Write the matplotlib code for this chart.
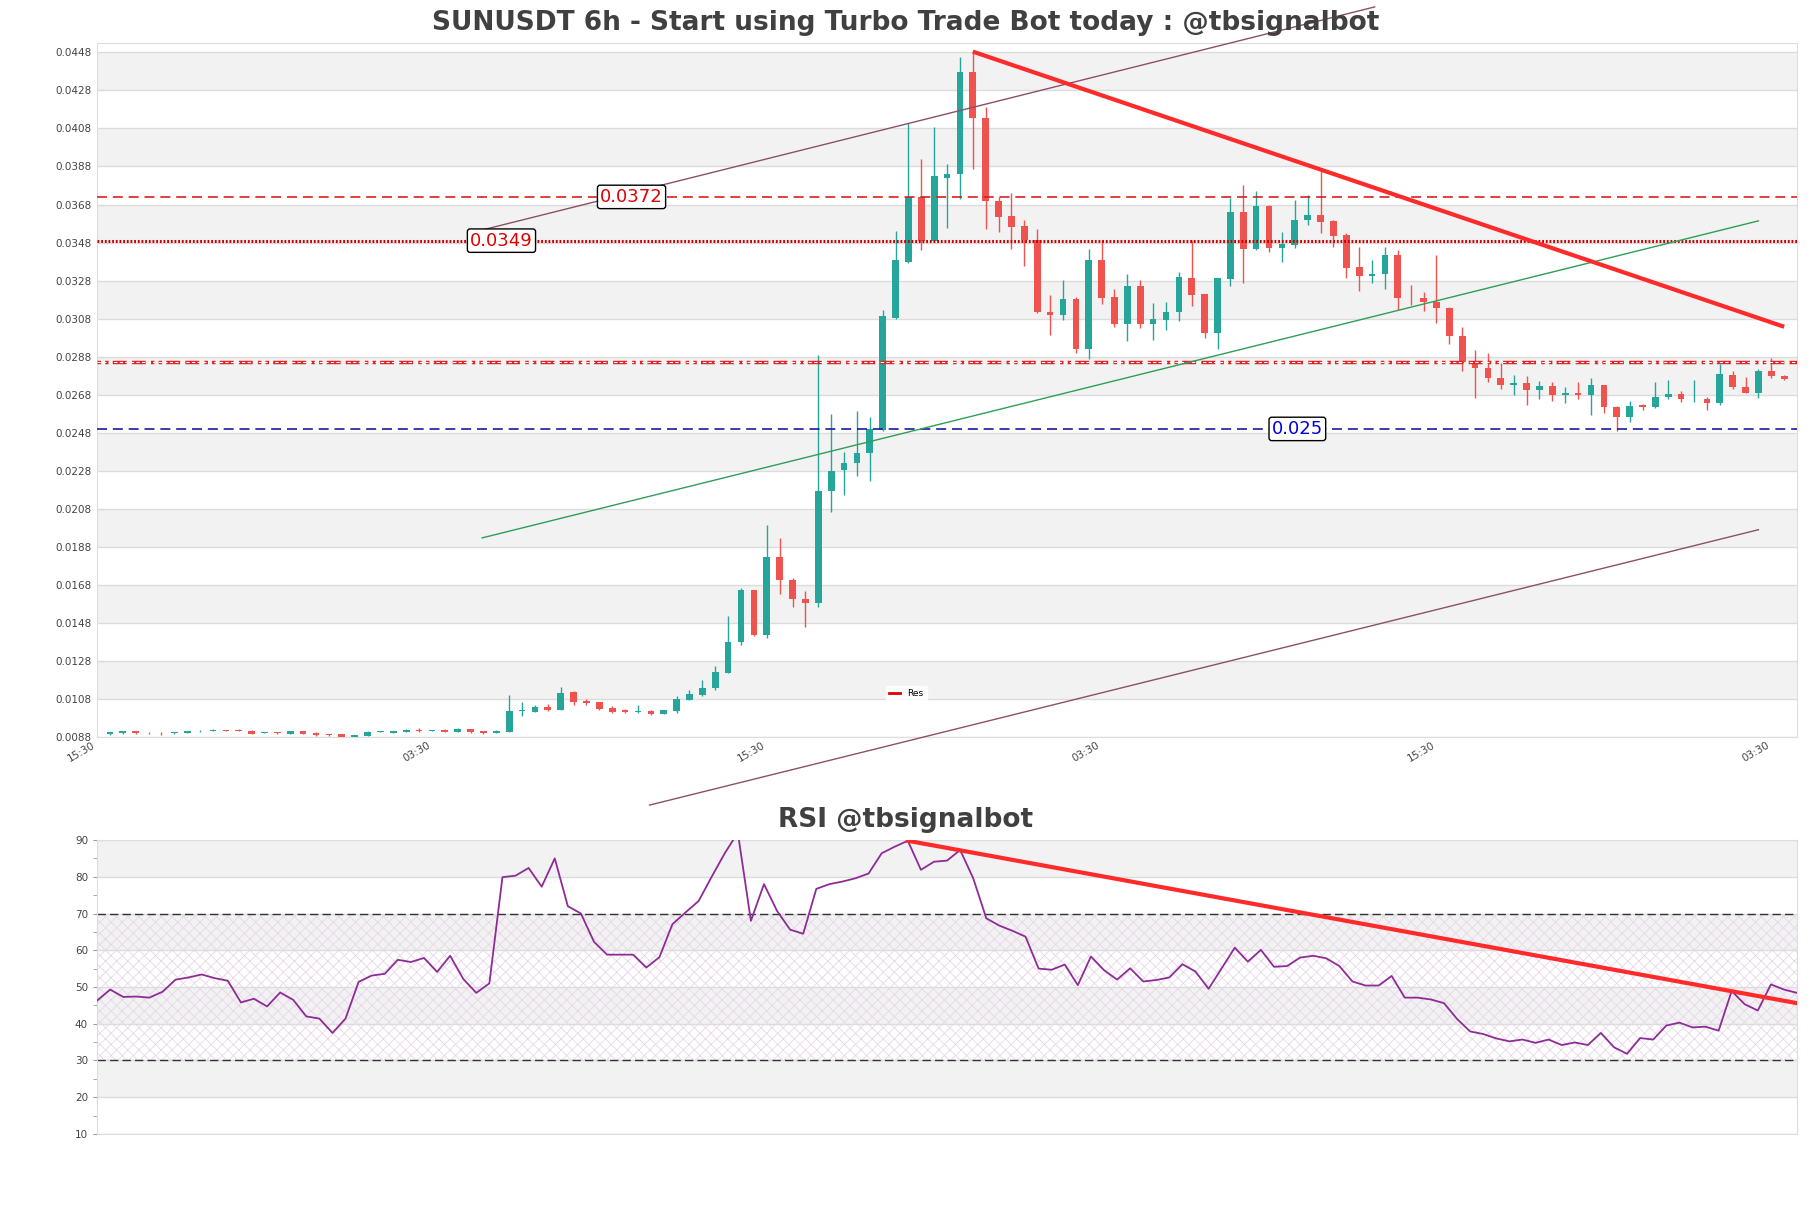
import numpy as np
import pandas as pd
import matplotlib
matplotlib.use("Agg")
import matplotlib.pyplot as plt

# candle data (6h candles)
opens = [0.00895, 0.00899, 0.00909, 0.00903, 0.00902, 0.00899, 0.00903, 0.00909, 0.00914, 0.00918,
         0.00918, 0.00913, 0.00902, 0.00904, 0.00897, 0.00909, 0.00902, 0.00895, 0.00895, 0.00882,
         0.00887, 0.00906, 0.00902, 0.00906, 0.00916, 0.00913, 0.00918, 0.00907, 0.00921, 0.00910,
         0.00902, 0.00906, 0.01018, 0.01012, 0.01038, 0.01024, 0.01119, 0.01071, 0.01064, 0.01034,
         0.01022, 0.01013, 0.01017, 0.01003, 0.01017, 0.01077, 0.01101, 0.01136, 0.01219, 0.01377,
         0.01652, 0.01417, 0.01828, 0.01705, 0.01607, 0.01584, 0.02174, 0.02284, 0.02321, 0.02374,
         0.02496, 0.03085, 0.03378, 0.03718, 0.03487, 0.03820, 0.03839, 0.04376, 0.04136, 0.03701,
         0.03618, 0.03569, 0.03495, 0.03114, 0.03099, 0.03181, 0.02918, 0.03386, 0.03192, 0.03051,
         0.03253, 0.03051, 0.03072, 0.03113, 0.03293, 0.03207, 0.03007, 0.03288, 0.03639, 0.03446,
         0.03671, 0.03453, 0.03465, 0.03601, 0.03623, 0.03594, 0.03518, 0.03351, 0.03304, 0.03315,
         0.03416, 0.03195, 0.03190, 0.03167, 0.03137, 0.02988, 0.02850, 0.02820, 0.02768, 0.02730,
         0.02744, 0.02707, 0.02726, 0.02679, 0.02688, 0.02676, 0.02730, 0.02616, 0.02562, 0.02628,
         0.02614, 0.02667, 0.02684, 0.02655, 0.02658, 0.02635, 0.02786, 0.02723, 0.02690, 0.02802,
         0.02779]
closes = [0.00905, 0.00909, 0.00899, 0.00899, 0.00899, 0.00906, 0.00911, 0.00913, 0.00917, 0.00910,
          0.00910, 0.00898, 0.00905, 0.00900, 0.00909, 0.00897, 0.00891, 0.00888, 0.00882, 0.00889,
          0.00907, 0.00909, 0.00912, 0.00919, 0.00911, 0.00916, 0.00908, 0.00922, 0.00905, 0.00901,
          0.00912, 0.01017, 0.01021, 0.01038, 0.01022, 0.01110, 0.01066, 0.01057, 0.01029, 0.01013,
          0.01012, 0.01018, 0.01003, 0.01020, 0.01080, 0.01105, 0.01138, 0.01222, 0.01380, 0.01652,
          0.01417, 0.01828, 0.01705, 0.01605, 0.01584, 0.02175, 0.02279, 0.02323, 0.02375, 0.02500,
          0.03092, 0.03386, 0.03718, 0.03487, 0.03829, 0.03843, 0.04376, 0.04136, 0.03699, 0.03615,
          0.03562, 0.03492, 0.03114, 0.03099, 0.03181, 0.02918, 0.03386, 0.03190, 0.03051, 0.03253,
          0.03051, 0.03079, 0.03116, 0.03297, 0.03204, 0.03007, 0.03292, 0.03639, 0.03446, 0.03671,
          0.03453, 0.03471, 0.03601, 0.03623, 0.03588, 0.03515, 0.03348, 0.03304, 0.03316, 0.03416,
          0.03188, 0.03192, 0.03167, 0.03137, 0.02988, 0.02848, 0.02820, 0.02767, 0.02730, 0.02742,
          0.02707, 0.02726, 0.02676, 0.02691, 0.02679, 0.02730, 0.02614, 0.02562, 0.02623, 0.02614,
          0.02670, 0.02686, 0.02656, 0.02658, 0.02635, 0.02790, 0.02719, 0.02690, 0.02802, 0.02777,
          0.02762]
highs = [0.00908, 0.00912, 0.00910, 0.00907, 0.00906, 0.00908, 0.00914, 0.00917, 0.00920, 0.00919,
         0.00920, 0.00918, 0.00908, 0.00907, 0.00911, 0.00911, 0.00904, 0.00897, 0.00896, 0.00891,
         0.00910, 0.00914, 0.00914, 0.00922, 0.00927, 0.00918, 0.00920, 0.00925, 0.00922, 0.00913,
         0.00915, 0.01101, 0.01064, 0.01048, 0.01052, 0.01143, 0.01120, 0.01081, 0.01066, 0.01041,
         0.01029, 0.01048, 0.01022, 0.01022, 0.01094, 0.01126, 0.01182, 0.01252, 0.01515, 0.01663,
         0.01655, 0.01995, 0.01928, 0.01717, 0.01647, 0.02888, 0.02576, 0.02381, 0.02595, 0.02565,
         0.03123, 0.03539, 0.04106, 0.03918, 0.04085, 0.03895, 0.04454, 0.04484, 0.04194, 0.03720,
         0.03738, 0.03597, 0.03553, 0.03202, 0.03281, 0.03193, 0.03448, 0.03492, 0.03237, 0.03313,
         0.03281, 0.03164, 0.03170, 0.03323, 0.03492, 0.03210, 0.03295, 0.03715, 0.03781, 0.03753,
         0.03675, 0.03534, 0.03706, 0.03729, 0.03860, 0.03600, 0.03530, 0.03457, 0.03387, 0.03457,
         0.03443, 0.03255, 0.03220, 0.03413, 0.03140, 0.03035, 0.02916, 0.02900, 0.02846, 0.02786,
         0.02776, 0.02751, 0.02748, 0.02723, 0.02748, 0.02770, 0.02731, 0.02618, 0.02649, 0.02630,
         0.02749, 0.02755, 0.02702, 0.02755, 0.02670, 0.02842, 0.02807, 0.02772, 0.02816, 0.02872,
         0.02781]
lows = [0.00890, 0.00896, 0.00897, 0.00894, 0.00893, 0.00897, 0.00899, 0.00907, 0.00912, 0.00909,
        0.00909, 0.00895, 0.00899, 0.00896, 0.00895, 0.00895, 0.00887, 0.00886, 0.00880, 0.00881,
        0.00885, 0.00904, 0.00900, 0.00904, 0.00908, 0.00911, 0.00906, 0.00905, 0.00903, 0.00897,
        0.00899, 0.00904, 0.00989, 0.01010, 0.01017, 0.01020, 0.01048, 0.01049, 0.01024, 0.01008,
        0.01007, 0.01008, 0.00998, 0.00999, 0.01008, 0.01073, 0.01098, 0.01129, 0.01219, 0.01366,
        0.01410, 0.01403, 0.01631, 0.01566, 0.01461, 0.01566, 0.02061, 0.02151, 0.02251, 0.02226,
        0.02490, 0.03079, 0.03372, 0.03439, 0.03487, 0.03557, 0.03711, 0.03867, 0.03550, 0.03536,
        0.03446, 0.03357, 0.03110, 0.02993, 0.03074, 0.02900, 0.02869, 0.03158, 0.03035, 0.02962,
        0.03032, 0.02969, 0.03018, 0.03067, 0.03146, 0.02978, 0.02920, 0.03251, 0.03269, 0.03440,
        0.03430, 0.03378, 0.03453, 0.03574, 0.03530, 0.03457, 0.03295, 0.03225, 0.03267, 0.03237,
        0.03123, 0.03153, 0.03118, 0.03057, 0.02948, 0.02807, 0.02663, 0.02745, 0.02712, 0.02677,
        0.02625, 0.02656, 0.02646, 0.02635, 0.02658, 0.02574, 0.02584, 0.02491, 0.02537, 0.02597,
        0.02612, 0.02658, 0.02640, 0.02640, 0.02597, 0.02626, 0.02711, 0.02688, 0.02662, 0.02767,
        0.02758]

rsi = [46.3, 49.3, 47.3, 47.4, 47.1, 48.7, 52.0, 52.6, 53.4, 52.4,
       51.7, 45.8, 46.8, 44.7, 48.5, 46.5, 42.0, 41.4, 37.5, 41.4,
       51.4, 53.1, 53.6, 57.4, 56.8, 57.9, 54.1, 58.5, 52.2, 48.4,
       51.0, 79.9, 80.3, 82.4, 77.3, 85.0, 72.0, 70.0, 62.3, 58.8,
       58.8, 58.8, 55.3, 58.1, 67.1, 70.3, 73.4, 80.0, 86.4, 92.0,
       68.0, 78.0, 70.7, 65.6, 64.5, 76.7, 78.0, 78.7, 79.6, 80.9,
       86.4, 88.2, 89.8, 81.9, 84.1, 84.4, 87.3, 79.6, 68.7, 66.7,
       65.3, 63.7, 55.0, 54.7, 56.1, 50.5, 58.3, 54.6, 52.0, 55.1,
       51.5, 51.9, 52.6, 56.2, 54.2, 49.5, 55.1, 60.7, 56.9, 60.1,
       55.5, 55.7, 58.0, 58.5, 57.8, 55.7, 51.5, 50.4, 50.4, 53.0,
       47.1, 47.1, 46.6, 45.6, 41.3, 37.9, 37.2, 36.0, 35.2, 35.7,
       34.8, 35.7, 34.2, 34.9, 34.2, 37.5, 33.6, 31.8, 36.1, 35.7,
       39.5, 40.3, 39.0, 39.2, 38.1, 48.9, 45.3, 43.6, 50.7, 49.3,
       48.4]

times = pd.date_range("2024-05-01 21:30", periods=len(opens), freq="6h")

# horizontal levels
res_top = 0.0372
res_mid = 0.0349
res_low = 0.02853
support = 0.025

# trend lines: (candle index, price)
down_line = [(67, 0.04484), (130, 0.03037)]
chan_upper = [(28.9, 0.03546), (98.2, 0.04719)]
chan_lower = [(41.9, 0.00522), (128.0, 0.01970)]
green_line = [(28.9, 0.01927), (128.0, 0.03594)]
rsi_line = [(62, 89.8), (130, 45.6)]

up_col = "#26a69a"
down_col = "#ef5350"

plt.rcParams["hatch.linewidth"] = 0.6

fig = plt.figure(figsize=(18.11, 12.08), dpi=100)
ax = fig.add_axes([0.0536, 0.3899, 0.9387, 0.5743])
rax = fig.add_axes([0.0536, 0.0613, 0.9387, 0.2433])

# ---- price chart ----
ymin, ymax = 0.0088, 0.04528
yticks = np.arange(0.0088, 0.0449, 0.002)
for lo in yticks[1::2]:
    ax.axhspan(lo, lo + 0.002, color="#f2f2f2", zorder=0, lw=0)
ax.set_yticks(yticks)
ax.set_yticklabels(["%.4f" % t for t in yticks])
ax.grid(axis="y", color="#dcdcdc", lw=1, zorder=0.5)
ax.set_axisbelow(True)

x = np.arange(len(opens))
o = np.array(opens)
c = np.array(closes)
cols = [up_col if cc >= oo else down_col for oo, cc in zip(o, c)]
ax.vlines(x, lows, highs, colors=cols, lw=1, zorder=2)
body = np.maximum(np.abs(c - o), 0.00004)
ax.bar(x, body, bottom=np.minimum(o, c), width=0.52, color=cols, zorder=3)

ax.axhline(res_top, color="#d82020", lw=1.2, dashes=(6, 3.5), zorder=4)
ax.axhline(res_mid, color="#cc0000", lw=2.2, ls=(0, (0.6, 0.6)), zorder=4)
ax.axhline(res_low, color="#dd2222", lw=2.5, ls=(0, (1, 1.2, 1, 1.2, 4, 1.5, 4, 1.5)), zorder=4)
ax.axhline(res_low, color="white", lw=0.8, ls=(0, (3, 2)), zorder=4)
ax.axhline(support, color="#1a1a9e", lw=1.2, dashes=(6, 3.5), zorder=4)

ax.plot(*zip(*down_line), color="#ff2a2a", lw=3, zorder=5, solid_capstyle="butt")
ax.plot(*zip(*chan_upper), color="#8c5068", lw=1, zorder=4, clip_on=False)
ax.plot(*zip(*chan_lower), color="#8c5068", lw=1, zorder=4, clip_on=False)
ax.plot(*zip(*green_line), color="#2f9e55", lw=1, zorder=4)

box = dict(boxstyle="round,pad=0.15", fc="white", ec="black", lw=1)
ax.text(40.5, res_top, "0.0372", color="#e00000", fontsize=13, ha="center", va="center", bbox=box, zorder=6)
ax.text(30.4, res_mid, "0.0349", color="#e00000", fontsize=13, ha="center", va="center", bbox=box, zorder=6)
ax.text(92.2, support, "0.025", color="#0000dd", fontsize=13, ha="center", va="center", bbox=box, zorder=6)

ax.plot([], [], color="#dd0000", lw=2, label="Res")
leg = ax.legend(loc="center", bbox_to_anchor=(0.476, 0.062), fontsize=6.5, frameon=True,
                handlelength=1.2, borderpad=0.4)
leg.get_frame().set_edgecolor("white")

ax.set_xlim(-1, len(opens))
ax.set_ylim(ymin, ymax)
tick_idx = list(range(-1, len(opens), 26))
tick_lab = [(times[0] + pd.Timedelta(hours=6 * i)).strftime("%H:%M") for i in tick_idx]
ax.set_xticks(tick_idx)
ax.set_xticklabels(tick_lab, rotation=30, ha="right")
ax.tick_params(axis="both", length=0, labelsize=7.5, labelcolor="#444444", pad=4)
ax.tick_params(axis="x", pad=2)
for s in ax.spines.values():
    s.set_color("#dddddd")

# ---- RSI ----
for lo in [20, 40, 60, 80]:
    rax.axhspan(lo, lo + 10, color="#f2f2f2", zorder=0, lw=0)
rax.fill_between([0, len(rsi) - 1], 30, 70, facecolor="none", edgecolor="#e8d6ea",
                 hatch="xxx", lw=0, zorder=0.6)
rax.set_yticks(range(10, 91, 10))
rax.set_yticks(range(15, 90, 10), minor=True)
rax.grid(axis="y", color="#dcdcdc", lw=1, zorder=0.5)
rax.axhline(70, color="#333333", lw=1, dashes=(6, 3), zorder=2)
rax.axhline(30, color="#333333", lw=1, dashes=(6, 3), zorder=2)
rax.plot(np.arange(len(rsi)), rsi, color="#8e2c96", lw=1.3, zorder=3)
rax.plot(*zip(*rsi_line), color="#ff2a2a", lw=3, zorder=4)
rax.set_xlim(0, len(rsi) - 1)
rax.set_ylim(10, 90)
rax.set_xticks([])
rax.tick_params(axis="y", which="both", length=3, color="#999999", labelsize=7.5,
                labelcolor="#444444")
for s in rax.spines.values():
    s.set_color("#dddddd")

fig.text(0.5, 0.981, "SUNUSDT 6h - Start using Turbo Trade Bot today : @tbsignalbot",
         ha="center", va="center", fontsize=19, fontweight="bold", color="#404040")
fig.text(0.5, 0.321, "RSI @tbsignalbot", ha="center", va="center", fontsize=19,
         fontweight="bold", color="#404040")

fig.savefig("out.png", dpi=100)
